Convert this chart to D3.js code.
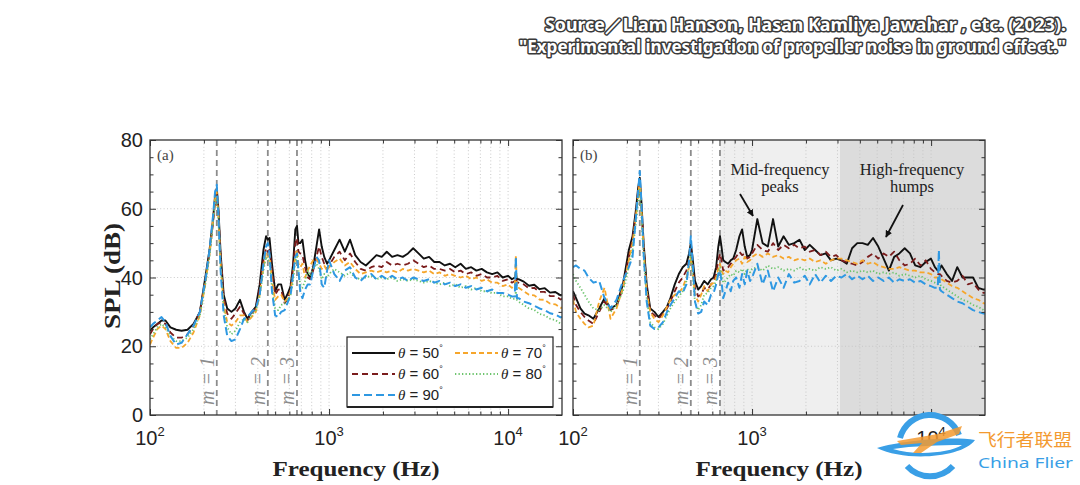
<!DOCTYPE html>
<html><head><meta charset="utf-8">
<script src="https://cdn.jsdelivr.net/npm/d3@7"></script>
<style>body{margin:0;background:#fff}svg{display:block}</style>
</head><body>
<svg id="c" width="1080" height="485"></svg>
<script>
// ---------- DATA ----------
const F = [100,104,110,116,122,130,140,150,162,175,190,205,215,225,231,236,241,248,258,270,285,300,318,335,350,370,390,410,430,445,455,465,480,500,520,540,565,590,610,630,648,662,675,690,710,735,760,785,815,850,880,910,940,975,
1000,1070,1145,1225,1310,1400,1500,1605,1720,1840,1970,2100,2250,2410,2580,2760,2950,3160,3380,3620,3870,4140,4430,4740,5070,5430,5810,6220,6650,7120,7620,8150,8720,9330,9980,10500,10900,11050,11200,11430,12230,13090,14000,14980,16030,17150,18350,19640,20000];

// panel (a)
const A50 = [24.5,25.5,26.5,27.5,27.5,25.5,24.8,24.5,24.8,26.5,30,41,48,57,64,66,60,47,35,31,30,31,33.5,30,28,30,31.5,38,48,52,51,51.5,44,36,38,38,33.5,35.5,37.5,44,54,55,50,50,51,45,41,40,43,49,54,49,46,44,
45,48,51,47.5,51,46.5,44.5,43.5,45,46.5,46,47.5,46,46.5,46,47,48.5,47,45.5,46,44.5,44.5,43.5,44,43,44,42.5,43,42,42.5,41.5,41,41.5,40,40.5,39.5,40,41,39.5,39.5,38.8,37.6,37.9,36.6,36.9,35.6,35.8,34.8,35];
const A60 = [23.5,25,26.5,27,26.5,24,22.5,22.5,23.5,26,30,40,47,56,62,64,59,46,34,29.5,28,29.5,31.5,29.5,27.5,29.5,31,37,45,48.5,47.5,48,42,35,36.5,36.5,32.5,34,36.5,43,50,51.5,47.5,47,46.5,43,40,39.5,42,46,49,46,44,42.5,
43.5,46,47.5,45,47,44.5,42.5,42,43,43.5,43,44.5,43.5,44,43.5,44,45,44,43,43.5,42.5,42.5,42,42.5,41.5,42,41,41.5,40.5,41,40,40,40.5,39,39.5,38.5,39,40,38.5,38.5,38,36.8,37,35.8,35.8,34.6,34.6,33.6,33.8];
const A70 = [20.5,22.5,25,26,25,21.5,19.5,19.5,21,24,29,39,47,57,63,65,58,44,32,27,26,27,29,29,27,28.5,30,35,43,47,46,46.5,39,33.5,34.5,35,33,34,36,41,46,48,44,43,44,40,42,43.5,45,45.5,44,42.5,43.5,42,
43,44.5,45.5,43.5,44.5,42.5,41,41.5,42,41.5,42,41.5,42,41.5,42.5,42,42.5,42,41.5,42,41,41.5,40.5,41,40.5,40,40.5,39.5,40,39,39.5,38.5,38.5,37.5,38,37,37.5,46.5,37,37,36,35,34.8,33.6,33.5,32.4,32.2,31.2,31.2];
const A80 = [22,23.5,25.5,26.5,25.5,23,21.5,21.5,22.5,25,29,39,46,56,62,64,57,43,31,25.5,23.5,24.5,27,28,27,29,30.5,34.5,42,46,45,45,37,31,30.5,32,32.5,33.5,35,39,44.5,46,42,38,37,39,42,40.5,42.5,44,42.5,39.5,41,40,
41,42.5,41.5,40.5,41.5,40,39.5,40,40.5,39.5,40,39.5,40,39,39.5,39,39.5,39,38.5,39,38.5,38,38.5,37.5,38,37,37.5,36.5,37,36,36,35.5,35.5,34.5,34.5,33.8,33.8,36,33.5,33,32,31,30.6,29.4,29,28,27.6,26.6,26.5];
const A90 = [25.5,26.5,27.5,28.5,27,23,20.5,21,23.5,26,30,40,48,58,65,67,58,42,29,23,21.5,22,25,28,28.5,30,31,35,44,49,50,47,36,29,28.5,30,30.5,33,35,41,46,47,42,36,34,36.5,38,38,42,46,45,38,37,42,
45,41,39,42,43,40,39,40.5,41,39.5,40.5,39.5,40.5,39.5,40,39,40,39.5,39,39.5,38.5,39,38,38.5,37.5,38,37,37.5,36.5,37,36,36.5,35.5,35.5,35,34.5,34.5,46,34,34,33,32.5,31.8,31,30.5,29.6,29.2,28.4,28.5];

// panel (b)
const B50 = [36,34,31,29.5,29,28,31,34,31,32,38,48,52,60,66,69,62,50,38,31,30,28.5,30,31.5,34,38,41,43,44,47,50,46,39,36.5,37.5,39,38,39.5,40,43,49,52,49,45,44.5,44,45,45.5,48,52,54,49,46,46.5,
48,57,50,49,57,49,52,49.5,50,51,48,49.5,48,46.5,47,45,45.5,45,44,48.5,50,50,49.5,51.5,49,45.5,42,46,47,48.5,47,43.5,43,44.5,45.5,43,42,42,42.5,43.5,41,39,43,40,40,40,37,36.5,36.5];
const B60 = [35,32,30,28.5,27.5,26.5,30,33,30.5,31.5,37,46,51,59,65,68,61,49,37,30,29,28,29.5,31,33,36,38.5,40,42,45,48,44,37,34.5,35,37,36.5,38,39,41,45,47,45,42,42.5,43,44,45,46,47.5,46.5,47,45.5,46,
47,49.5,48,47.5,50,48,49.5,48.5,49.5,48.5,49,47.5,48,46.5,47.5,46,46.5,45,44.5,44,43.5,44.5,46,47,45.5,47,46,47.5,45,43.5,44,45.5,43.5,45,42.5,41.5,41,41,41,40.5,39,38.5,39,40.5,38,38.5,36.5,35.5,35.5];
const B70 = [33.5,30,28,26.5,25.5,26,33,37,28,31,37,45,50,58,64,68,60,48,36,30,28,27,29,31.5,33.5,35,35.5,37,40,43,46,42,35,33,35,37.5,36,38,38.5,40,42.5,44,42,41,42,41.5,43,44,45,45.5,44,46,44.5,45,
46,47,46,47,46,46.5,45.5,46,45,45.5,45,45.5,44.5,45,44,45,45.5,45.5,45,44.5,44,45,44,44.5,43.5,43,42.5,42.5,43,42.5,42,42,41.5,41.5,41,40,40,40,40,39.5,38.5,37.5,37,36,35,34,33.5,32.5,32.5];
const B80 = [41,39,37,35,33,31,30.5,32,30,32,36,43,48,56,62,66,58,46,34,27,25.5,25,26.5,29,31,33,34.5,36,39,44,47,41,33,30.5,32,35,35.5,37,37.5,39,41.5,43,41,38.5,39,40,41,40.5,42,41.5,42.5,41,42.5,41.5,
42.5,43,42,43.5,42.5,43,42,42.5,42,43,42,42.5,42,43,42.5,43,42,42.5,41.5,42,41.5,42,41.5,42,41,41.5,41,41.5,40.5,41,40.5,40,40.5,39.5,39,38.5,38,38,38,37.5,36.5,35.5,34.5,33.5,33,32,31.5,30.5,30.5];
const B90 = [43,43.5,42.5,42,40,38.5,39,34,31,33.5,39,43,46,58,65,71,62,47,33,26,25,25.5,27,30,32,34,36,35.5,38,45,52,45,33,29.5,30,33,32,35,35.5,38,41,42,39,34,36,38.5,36,39,40,37,41,38,42,39,
40,44,38,42,36,40,37,41,38.5,39,40.5,38,41,38.5,40.5,39,40.5,40,41,39.5,40.5,39.5,40.5,39,40,39,40,38.5,39.5,39,39.5,38.5,39,38,37.5,37,37,48,36.5,36,35,34,33,32.5,31.5,30.5,30,29.5,29.5];

const THETAS = ["50","60","70","80","90"];
const Y_TICKS = [0,20,40,60,80];
const X_MAJOR = [100,1000,10000];
const X_EXP = ["2","3","4"];
const M_FREQS = [236,455,662];
const M_NUM = ["1","2","3"];
const SHADE_BANDS = [[662,3100],[3100,20000]];
const SOURCE_LINES = ["Source／Liam Hanson, Hasan Kamliya Jawahar , etc. (2023).","\"Experimental investigation of propeller noise in ground effect.\""];

// ---------- DRAW ----------
const svg = d3.select("#c");
svg.append("rect").attr("width",1080).attr("height",485).attr("fill","#fff");
const defs = svg.append("defs");
defs.append("marker").attr("id","arr").attr("viewBox","0 0 10 10").attr("refX",9).attr("refY",5)
  .attr("markerWidth",7).attr("markerHeight",7).attr("orient","auto-start-reverse").attr("markerUnits","userSpaceOnUse")
  .append("path").attr("d","M0,0 L10,5 L0,10 z").attr("fill","#111");

const yTop = 140, yBot = 415;
const y = d3.scaleLinear().domain([0,80]).range([yBot,yTop]);
const styles = [
  {c:"#111111", d:null,      w:1.9},
  {c:"#7a1c1c", d:"6,4",     w:1.8},
  {c:"#f6a62b", d:"5,3",     w:1.8},
  {c:"#6cc46c", d:"1.3,2.2", w:1.8},
  {c:"#2e98e2", d:"8,4",     w:2.0}
];
const panels = [
  {id:"a", x0:150, x1:562, data:[A50,A60,A70,A80,A90]},
  {id:"b", x0:573, x1:985, data:[B50,B60,B70,B80,B90]}
];
const isPow10 = t => Math.abs(Math.log10(t) - Math.round(Math.log10(t))) < 1e-9;
const serif = "'Liberation Serif','DejaVu Serif',serif";
const sans = "'Liberation Sans',Arial,Helvetica,sans-serif";

panels.forEach(p => {
  const x = d3.scaleLog().domain([100,20000]).range([p.x0,p.x1]);
  const g = svg.append("g");
  const w = p.x1 - p.x0, h = yBot - yTop;
  defs.append("clipPath").attr("id","clip-"+p.id).append("rect")
    .attr("x",p.x0).attr("y",yTop).attr("width",w).attr("height",h);

  g.append("rect").attr("x",p.x0).attr("y",yTop).attr("width",w).attr("height",h).attr("fill","#fff");
  if (p.id === "b") {
    const fills = ["#efefef","#dcdcdc"];
    SHADE_BANDS.forEach((b,i) => g.append("rect").attr("x",x(b[0])).attr("y",yTop)
      .attr("width",x(b[1])-x(b[0])).attr("height",h).attr("fill",fills[i]));
  }
  const xt = x.ticks().filter(t => t > 100 && t < 20000);
  // grid
  const grid = g.append("g").attr("stroke","#c4c4c4").attr("stroke-width",0.9).attr("stroke-dasharray","1,2.4");
  xt.forEach(t => grid.append("line").attr("x1",x(t)).attr("x2",x(t)).attr("y1",yTop).attr("y2",yBot));
  [20,40,60].forEach(v => grid.append("line").attr("x1",p.x0).attr("x2",p.x1).attr("y1",y(v)).attr("y2",y(v)));

  // m lines
  M_FREQS.forEach((f,i) => {
    g.append("line").attr("x1",x(f)).attr("x2",x(f)).attr("y1",yTop).attr("y2",yBot)
      .attr("stroke","#8c8c8c").attr("stroke-width",1.8).attr("stroke-dasharray","6,4");
    const t = g.append("text").attr("transform",`translate(${x(f)-10},381) rotate(-90)`)
      .attr("dy","0.35em").attr("text-anchor","middle").attr("font-family",serif).attr("font-style","italic")
      .attr("font-size",20).attr("fill","#8c8c8c");
    t.text("m = " + M_NUM[i]);
  });

  // curves
  const cg = g.append("g").attr("clip-path",`url(#clip-${p.id})`);
  const line = d3.line().x((d,i) => x(F[i])).y(d => y(d));
  p.data.forEach((s,k) => {
    cg.append("path").attr("d",line(s)).attr("fill","none").attr("stroke",styles[k].c)
      .attr("stroke-width",styles[k].w).attr("stroke-dasharray",styles[k].d).attr("stroke-linejoin","round");
  });

  // ticks (inward) using d3 axes
  const xMinor = xt.filter(t => !isPow10(t));
  const xMaj = X_MAJOR;
  const yMinor = d3.range(5,80,5).filter(v => v % 20 !== 0);
  const tickStyle = sel => { sel.select(".domain").remove(); sel.selectAll("line").attr("stroke","#333"); };
  g.append("g").attr("transform",`translate(0,${yBot})`).call(d3.axisBottom(x).tickValues(xMinor).tickSize(-3.5).tickFormat("")).call(tickStyle);
  g.append("g").attr("transform",`translate(0,${yBot})`).call(d3.axisBottom(x).tickValues(xMaj).tickSize(-6).tickFormat("")).call(tickStyle);
  g.append("g").attr("transform",`translate(0,${yTop})`).call(d3.axisTop(x).tickValues(xMinor).tickSize(-3.5).tickFormat("")).call(tickStyle);
  g.append("g").attr("transform",`translate(0,${yTop})`).call(d3.axisTop(x).tickValues(xMaj).tickSize(-6).tickFormat("")).call(tickStyle);
  g.append("g").attr("transform",`translate(${p.x0},0)`).call(d3.axisLeft(y).tickValues(yMinor).tickSize(-3.5).tickFormat("")).call(tickStyle);
  g.append("g").attr("transform",`translate(${p.x0},0)`).call(d3.axisLeft(y).tickValues(Y_TICKS).tickSize(-6).tickFormat("")).call(tickStyle);
  g.append("g").attr("transform",`translate(${p.x1},0)`).call(d3.axisRight(y).tickValues(yMinor).tickSize(-3.5).tickFormat("")).call(tickStyle);
  g.append("g").attr("transform",`translate(${p.x1},0)`).call(d3.axisRight(y).tickValues(Y_TICKS).tickSize(-6).tickFormat("")).call(tickStyle);

  // frame
  g.append("rect").attr("x",p.x0).attr("y",yTop).attr("width",w).attr("height",h)
    .attr("fill","none").attr("stroke","#333").attr("stroke-width",1.3);

  // panel label
  g.append("text").attr("x",p.x0+7).attr("y",yTop+20).attr("font-family",serif).attr("font-size",15)
    .attr("fill","#444").text(`(${p.id})`);

  // x tick labels
  X_MAJOR.forEach((v,i) => {
    const t = g.append("text").attr("x",x(v)).attr("y",445).attr("text-anchor","middle")
      .attr("font-family",sans).attr("font-size",20).attr("fill","#222");
    t.append("tspan").text("10");
    t.append("tspan").attr("dy",-9).attr("font-size",13).text(X_EXP[i]);
  });
  // x title
  g.append("text").attr("x",(p.x0+p.x1)/2).attr("y",476).attr("text-anchor","middle")
    .attr("font-family",serif).attr("font-weight","bold").attr("font-size",22).attr("fill","#222")
    .attr("textLength",167).attr("lengthAdjust","spacingAndGlyphs").text("Frequency (Hz)");

  if (p.id === "a") {
    Y_TICKS.forEach(v => g.append("text").attr("x",143).attr("y",y(v)+7).attr("text-anchor","end")
      .attr("font-family",sans).attr("font-size",20).attr("fill","#222").text(v));
    g.append("text").attr("transform","translate(112,276) rotate(-90)").attr("dy","0.35em")
      .attr("text-anchor","middle").attr("font-family",serif).attr("font-weight","bold").attr("font-size",23)
      .attr("fill","#222").attr("textLength",106).attr("lengthAdjust","spacingAndGlyphs").text("SPL (dB)");
    // legend
    const lg = g.append("g");
    lg.append("rect").attr("x",347).attr("y",337).attr("width",206).attr("height",70)
      .attr("fill","#fff").attr("stroke","#222").attr("stroke-width",1.2);
    lg.append("line").attr("x1",347).attr("x2",553).attr("y1",407).attr("y2",407).attr("stroke","#222").attr("stroke-width",2.2);
    const pos = [[0,0],[0,1],[1,0],[1,1],[0,2]];
    const colX = [352,455], rowY = [353,374,395];
    THETAS.forEach((th,k) => {
      const cx = colX[pos[k][0]], ry = rowY[pos[k][1]];
      lg.append("line").attr("x1",cx).attr("x2",cx+43).attr("y1",ry).attr("y2",ry)
        .attr("stroke",styles[k].c).attr("stroke-width",styles[k].w).attr("stroke-dasharray",styles[k].d);
      const t = lg.append("text").attr("x",cx+46).attr("y",ry+5).attr("font-size",15).attr("fill","#222");
      t.append("tspan").attr("font-family",serif).attr("font-style","italic").text("θ");
      t.append("tspan").attr("font-family",sans).text(" = " + th);
      t.append("tspan").attr("font-family",sans).attr("font-size",9).attr("dy",-7).text("°");
    });
  } else {
    const ag = g.append("g").attr("font-family",serif).attr("font-size",16.5).attr("fill","#222").attr("text-anchor","middle");
    ag.append("text").attr("x",780).attr("y",175).text("Mid-frequency");
    ag.append("text").attr("x",780).attr("y",192).text("peaks");
    ag.append("text").attr("x",912).attr("y",175).text("High-frequency");
    ag.append("text").attr("x",912).attr("y",192).text("humps");
    g.append("line").attr("x1",740).attr("y1",194).attr("x2",753).attr("y2",216)
      .attr("stroke","#111").attr("stroke-width",1.8).attr("marker-end","url(#arr)");
    g.append("line").attr("x1",903).attr("y1",205).attr("x2",886).attr("y2",237)
      .attr("stroke","#111").attr("stroke-width",1.8).attr("marker-end","url(#arr)");
  }
});

// source text
SOURCE_LINES.forEach((s,i) => {
  svg.append("text").attr("x",1066).attr("y",31 + i*22).attr("text-anchor","end")
    .attr("font-family","'Noto Sans','Liberation Sans',sans-serif").attr("font-weight","bold").attr("font-size",17)
    .attr("fill","#fff").attr("stroke","#3a3a3a").attr("stroke-width",3).attr("paint-order","stroke")
    .attr("stroke-linejoin","round").attr("textLength", i === 0 ? 521 : 547).attr("lengthAdjust","spacingAndGlyphs").text(s);
});

// watermark
const wm = svg.append("g");
const blue = "#3a9fe6", orange = "#f39a30";
wm.append("path").attr("d","M900,438 A31,31 0 0 1 959,435").attr("fill","none").attr("stroke",blue).attr("stroke-width",6);
wm.append("path").attr("d","M907,466 A31,31 0 0 0 953,466").attr("fill","none").attr("stroke",blue).attr("stroke-width",6);
wm.append("path").attr("d","M877,448 C900,441 950,436 975,440 C962,458 905,462 877,448 Z M893,449 C915,456 950,453 962,445 C940,445 912,446 893,449 Z")
  .attr("fill",blue).attr("fill-rule","evenodd");
wm.append("path").attr("d","M897,441 L938,434 L962,426 L959,434 L937,442 L921,453 L913,453 L922,443 L901,445 Z")
  .attr("fill",orange).attr("opacity",0.85);
wm.append("text").attr("x",978).attr("y",446).attr("font-family","'Noto Sans CJK SC',sans-serif").attr("font-size",17)
  .attr("fill",orange).attr("textLength",94).attr("lengthAdjust","spacingAndGlyphs").text("飞行者联盟");
wm.append("text").attr("x",978).attr("y",468).attr("font-family","'Noto Sans',sans-serif").attr("font-size",15)
  .attr("fill",blue).attr("textLength",95).attr("lengthAdjust","spacingAndGlyphs").text("China Flier");
</script>
</body></html>
